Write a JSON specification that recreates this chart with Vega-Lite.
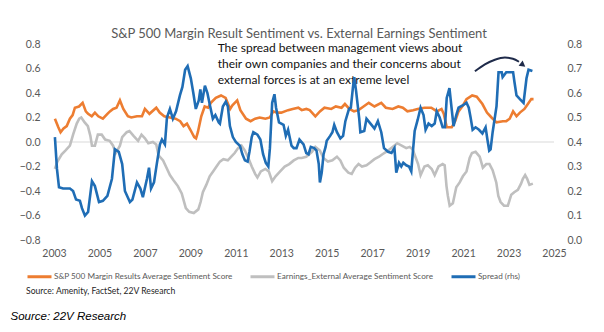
{
  "$schema": "https://vega.github.io/schema/vega-lite/v6.json",
  "width": 500,
  "height": 196,
  "autosize": {"type": "none"},
  "padding": {"left": 54, "top": 44, "right": 50, "bottom": 92},
  "background": "white",
  "config": {"view": {"stroke": null}, "font": "Lato"},
  "title": {"text": "S&P 500 Margin Result Sentiment vs. External Earnings Sentiment", "font": "Lato", "fontSize": 13, "fontWeight": "normal", "color": "#595959", "anchor": "middle", "offset": 0, "dx": -5, "dy": 2},
  "datasets": {
    "zero": [{"t":2003,"v":0},{"t":2025,"v":0}],
    "left": [
      {"s":"m","t":2003.04,"v":0.19},{"s":"m","t":2003.19,"v":0.12},{"s":"m","t":2003.29,"v":0.08},{"s":"m","t":2003.42,"v":0.11},{"s":"m","t":2003.56,"v":0.13},{"s":"m","t":2003.70,"v":0.19},{"s":"m","t":2003.82,"v":0.22},{"s":"m","t":2003.92,"v":0.28},{"s":"m","t":2004.10,"v":0.29},{"s":"m","t":2004.26,"v":0.32},{"s":"m","t":2004.40,"v":0.25},{"s":"m","t":2004.50,"v":0.23},{"s":"m","t":2004.66,"v":0.21},{"s":"m","t":2004.80,"v":0.24},{"s":"m","t":2004.95,"v":0.21},{"s":"m","t":2005.15,"v":0.19},{"s":"m","t":2005.35,"v":0.23},{"s":"m","t":2005.46,"v":0.25},{"s":"m","t":2005.60,"v":0.27},{"s":"m","t":2005.75,"v":0.28},{"s":"m","t":2005.90,"v":0.34},{"s":"m","t":2006.05,"v":0.27},{"s":"m","t":2006.25,"v":0.21},{"s":"m","t":2006.40,"v":0.20},{"s":"m","t":2006.65,"v":0.21},{"s":"m","t":2006.87,"v":0.21},{"s":"m","t":2007.00,"v":0.27},{"s":"m","t":2007.20,"v":0.23},{"s":"m","t":2007.50,"v":0.28},{"s":"m","t":2007.65,"v":0.24},{"s":"m","t":2007.85,"v":0.21},{"s":"m","t":2008.10,"v":0.20},{"s":"m","t":2008.35,"v":0.19},{"s":"m","t":2008.55,"v":0.17},{"s":"m","t":2008.70,"v":0.13},{"s":"m","t":2008.85,"v":0.15},{"s":"m","t":2009.00,"v":0.10},{"s":"m","t":2009.17,"v":0.04},{"s":"m","t":2009.25,"v":0.03},{"s":"m","t":2009.33,"v":0.08},{"s":"m","t":2009.48,"v":0.21},{"s":"m","t":2009.63,"v":0.29},{"s":"m","t":2009.78,"v":0.28},{"s":"m","t":2009.90,"v":0.32},{"s":"m","t":2010.12,"v":0.36},{"s":"m","t":2010.35,"v":0.38},{"s":"m","t":2010.55,"v":0.36},{"s":"m","t":2010.75,"v":0.27},{"s":"m","t":2010.85,"v":0.30},{"s":"m","t":2011.06,"v":0.34},{"s":"m","t":2011.20,"v":0.26},{"s":"m","t":2011.45,"v":0.19},{"s":"m","t":2011.65,"v":0.17},{"s":"m","t":2011.85,"v":0.19},{"s":"m","t":2012.05,"v":0.20},{"s":"m","t":2012.30,"v":0.19},{"s":"m","t":2012.50,"v":0.20},{"s":"m","t":2012.65,"v":0.25},{"s":"m","t":2012.80,"v":0.24},{"s":"m","t":2013.00,"v":0.24},{"s":"m","t":2013.30,"v":0.26},{"s":"m","t":2013.50,"v":0.27},{"s":"m","t":2013.75,"v":0.28},{"s":"m","t":2013.90,"v":0.26},{"s":"m","t":2014.10,"v":0.27},{"s":"m","t":2014.25,"v":0.26},{"s":"m","t":2014.50,"v":0.21},{"s":"m","t":2014.70,"v":0.25},{"s":"m","t":2014.90,"v":0.28},{"s":"m","t":2015.20,"v":0.27},{"s":"m","t":2015.40,"v":0.29},{"s":"m","t":2015.65,"v":0.28},{"s":"m","t":2015.80,"v":0.31},{"s":"m","t":2016.00,"v":0.27},{"s":"m","t":2016.20,"v":0.25},{"s":"m","t":2016.40,"v":0.26},{"s":"m","t":2016.62,"v":0.29},{"s":"m","t":2016.85,"v":0.32},{"s":"m","t":2017.10,"v":0.29},{"s":"m","t":2017.40,"v":0.32},{"s":"m","t":2017.60,"v":0.28},{"s":"m","t":2017.90,"v":0.27},{"s":"m","t":2018.15,"v":0.29},{"s":"m","t":2018.35,"v":0.28},{"s":"m","t":2018.55,"v":0.25},{"s":"m","t":2018.80,"v":0.26},{"s":"m","t":2019.00,"v":0.27},{"s":"m","t":2019.30,"v":0.28},{"s":"m","t":2019.60,"v":0.28},{"s":"m","t":2019.85,"v":0.25},{"s":"m","t":2020.05,"v":0.27},{"s":"m","t":2020.15,"v":0.23},{"s":"m","t":2020.28,"v":0.12},{"s":"m","t":2020.50,"v":0.12},{"s":"m","t":2020.65,"v":0.17},{"s":"m","t":2020.80,"v":0.25},{"s":"m","t":2021.00,"v":0.30},{"s":"m","t":2021.15,"v":0.35},{"s":"m","t":2021.40,"v":0.38},{"s":"m","t":2021.60,"v":0.37},{"s":"m","t":2021.85,"v":0.31},{"s":"m","t":2022.05,"v":0.24},{"s":"m","t":2022.25,"v":0.20},{"s":"m","t":2022.47,"v":0.16},{"s":"m","t":2022.75,"v":0.17},{"s":"m","t":2022.90,"v":0.17},{"s":"m","t":2023.05,"v":0.19},{"s":"m","t":2023.20,"v":0.25},{"s":"m","t":2023.35,"v":0.21},{"s":"m","t":2023.50,"v":0.24},{"s":"m","t":2023.70,"v":0.27},{"s":"m","t":2023.85,"v":0.31},{"s":"m","t":2024.00,"v":0.35},{"s":"m","t":2024.10,"v":0.35},
      {"s":"e","t":2003.04,"v":-0.22},{"s":"e","t":2003.15,"v":-0.16},{"s":"e","t":2003.34,"v":-0.10},{"s":"e","t":2003.50,"v":-0.07},{"s":"e","t":2003.70,"v":-0.03},{"s":"e","t":2003.84,"v":0.06},{"s":"e","t":2004.00,"v":0.15},{"s":"e","t":2004.11,"v":0.19},{"s":"e","t":2004.20,"v":0.20},{"s":"e","t":2004.35,"v":0.16},{"s":"e","t":2004.49,"v":0.13},{"s":"e","t":2004.60,"v":0.05},{"s":"e","t":2004.67,"v":-0.03},{"s":"e","t":2004.80,"v":-0.03},{"s":"e","t":2004.93,"v":0.06},{"s":"e","t":2005.10,"v":0.06},{"s":"e","t":2005.25,"v":0.02},{"s":"e","t":2005.45,"v":0.01},{"s":"e","t":2005.60,"v":-0.03},{"s":"e","t":2005.72,"v":-0.09},{"s":"e","t":2005.90,"v":-0.03},{"s":"e","t":2006.00,"v":0.04},{"s":"e","t":2006.20,"v":0.08},{"s":"e","t":2006.32,"v":0.09},{"s":"e","t":2006.50,"v":0.05},{"s":"e","t":2006.70,"v":0.01},{"s":"e","t":2006.85,"v":0.06},{"s":"e","t":2007.00,"v":0.03},{"s":"e","t":2007.15,"v":-0.01},{"s":"e","t":2007.35,"v":0.0},{"s":"e","t":2007.50,"v":-0.02},{"s":"e","t":2007.60,"v":-0.11},{"s":"e","t":2007.80,"v":-0.15},{"s":"e","t":2007.95,"v":-0.21},{"s":"e","t":2008.10,"v":-0.27},{"s":"e","t":2008.25,"v":-0.31},{"s":"e","t":2008.45,"v":-0.36},{"s":"e","t":2008.62,"v":-0.42},{"s":"e","t":2008.80,"v":-0.54},{"s":"e","t":2008.95,"v":-0.57},{"s":"e","t":2009.15,"v":-0.58},{"s":"e","t":2009.35,"v":-0.55},{"s":"e","t":2009.45,"v":-0.49},{"s":"e","t":2009.55,"v":-0.41},{"s":"e","t":2009.70,"v":-0.35},{"s":"e","t":2009.85,"v":-0.28},{"s":"e","t":2010.00,"v":-0.24},{"s":"e","t":2010.15,"v":-0.20},{"s":"e","t":2010.30,"v":-0.16},{"s":"e","t":2010.45,"v":-0.14},{"s":"e","t":2010.65,"v":-0.15},{"s":"e","t":2010.80,"v":-0.12},{"s":"e","t":2010.95,"v":-0.09},{"s":"e","t":2011.10,"v":-0.05},{"s":"e","t":2011.25,"v":-0.03},{"s":"e","t":2011.40,"v":-0.07},{"s":"e","t":2011.55,"v":-0.13},{"s":"e","t":2011.70,"v":-0.20},{"s":"e","t":2011.85,"v":-0.26},{"s":"e","t":2011.95,"v":-0.29},{"s":"e","t":2012.10,"v":-0.24},{"s":"e","t":2012.30,"v":-0.22},{"s":"e","t":2012.45,"v":-0.24},{"s":"e","t":2012.60,"v":-0.32},{"s":"e","t":2012.75,"v":-0.28},{"s":"e","t":2012.95,"v":-0.24},{"s":"e","t":2013.15,"v":-0.20},{"s":"e","t":2013.35,"v":-0.18},{"s":"e","t":2013.55,"v":-0.15},{"s":"e","t":2013.75,"v":-0.13},{"s":"e","t":2013.90,"v":-0.13},{"s":"e","t":2014.10,"v":-0.12},{"s":"e","t":2014.35,"v":-0.08},{"s":"e","t":2014.50,"v":-0.04},{"s":"e","t":2014.70,"v":-0.07},{"s":"e","t":2014.85,"v":-0.13},{"s":"e","t":2015.05,"v":-0.16},{"s":"e","t":2015.25,"v":-0.15},{"s":"e","t":2015.45,"v":-0.12},{"s":"e","t":2015.60,"v":-0.15},{"s":"e","t":2015.75,"v":-0.21},{"s":"e","t":2015.95,"v":-0.25},{"s":"e","t":2016.10,"v":-0.26},{"s":"e","t":2016.25,"v":-0.21},{"s":"e","t":2016.40,"v":-0.18},{"s":"e","t":2016.55,"v":-0.20},{"s":"e","t":2016.75,"v":-0.19},{"s":"e","t":2016.90,"v":-0.17},{"s":"e","t":2017.10,"v":-0.14},{"s":"e","t":2017.30,"v":-0.12},{"s":"e","t":2017.45,"v":-0.10},{"s":"e","t":2017.70,"v":-0.07},{"s":"e","t":2017.90,"v":-0.04},{"s":"e","t":2018.10,"v":-0.01},{"s":"e","t":2018.30,"v":-0.03},{"s":"e","t":2018.50,"v":-0.05},{"s":"e","t":2018.65,"v":-0.04},{"s":"e","t":2018.78,"v":-0.06},{"s":"e","t":2018.90,"v":-0.12},{"s":"e","t":2019.02,"v":-0.18},{"s":"e","t":2019.13,"v":-0.27},{"s":"e","t":2019.30,"v":-0.20},{"s":"e","t":2019.45,"v":-0.19},{"s":"e","t":2019.62,"v":-0.22},{"s":"e","t":2019.75,"v":-0.27},{"s":"e","t":2019.92,"v":-0.20},{"s":"e","t":2020.10,"v":-0.18},{"s":"e","t":2020.19,"v":-0.19},{"s":"e","t":2020.27,"v":-0.36},{"s":"e","t":2020.33,"v":-0.44},{"s":"e","t":2020.41,"v":-0.52},{"s":"e","t":2020.55,"v":-0.50},{"s":"e","t":2020.70,"v":-0.37},{"s":"e","t":2020.85,"v":-0.33},{"s":"e","t":2020.99,"v":-0.28},{"s":"e","t":2021.15,"v":-0.24},{"s":"e","t":2021.29,"v":-0.13},{"s":"e","t":2021.39,"v":-0.09},{"s":"e","t":2021.55,"v":-0.08},{"s":"e","t":2021.73,"v":-0.12},{"s":"e","t":2021.87,"v":-0.21},{"s":"e","t":2022.02,"v":-0.18},{"s":"e","t":2022.16,"v":-0.18},{"s":"e","t":2022.30,"v":-0.23},{"s":"e","t":2022.46,"v":-0.33},{"s":"e","t":2022.55,"v":-0.44},{"s":"e","t":2022.65,"v":-0.49},{"s":"e","t":2022.80,"v":-0.52},{"s":"e","t":2022.97,"v":-0.52},{"s":"e","t":2023.12,"v":-0.43},{"s":"e","t":2023.25,"v":-0.41},{"s":"e","t":2023.41,"v":-0.39},{"s":"e","t":2023.55,"v":-0.34},{"s":"e","t":2023.63,"v":-0.30},{"s":"e","t":2023.73,"v":-0.27},{"s":"e","t":2023.82,"v":-0.30},{"s":"e","t":2023.92,"v":-0.35},{"s":"e","t":2024.07,"v":-0.34}
    ],
    "spread": [
      {"s":"s","t":2003.04,"v":0.42},{"s":"s","t":2003.13,"v":0.29},{"s":"s","t":2003.22,"v":0.215},{"s":"s","t":2003.40,"v":0.21},{"s":"s","t":2003.70,"v":0.21},{"s":"s","t":2003.84,"v":0.20},{"s":"s","t":2003.97,"v":0.165},{"s":"s","t":2004.14,"v":0.16},{"s":"s","t":2004.23,"v":0.13},{"s":"s","t":2004.36,"v":0.10},{"s":"s","t":2004.50,"v":0.115},{"s":"s","t":2004.67,"v":0.24},{"s":"s","t":2004.80,"v":0.22},{"s":"s","t":2004.98,"v":0.155},{"s":"s","t":2005.15,"v":0.16},{"s":"s","t":2005.35,"v":0.18},{"s":"s","t":2005.55,"v":0.25},{"s":"s","t":2005.68,"v":0.37},{"s":"s","t":2005.85,"v":0.36},{"s":"s","t":2006.00,"v":0.31},{"s":"s","t":2006.12,"v":0.20},{"s":"s","t":2006.34,"v":0.155},{"s":"s","t":2006.45,"v":0.165},{"s":"s","t":2006.65,"v":0.235},{"s":"s","t":2006.80,"v":0.21},{"s":"s","t":2006.91,"v":0.175},{"s":"s","t":2007.09,"v":0.25},{"s":"s","t":2007.18,"v":0.295},{"s":"s","t":2007.27,"v":0.21},{"s":"s","t":2007.40,"v":0.235},{"s":"s","t":2007.53,"v":0.315},{"s":"s","t":2007.66,"v":0.39},{"s":"s","t":2007.75,"v":0.41},{"s":"s","t":2007.88,"v":0.39},{"s":"s","t":2007.97,"v":0.50},{"s":"s","t":2008.10,"v":0.535},{"s":"s","t":2008.23,"v":0.495},{"s":"s","t":2008.37,"v":0.525},{"s":"s","t":2008.54,"v":0.59},{"s":"s","t":2008.65,"v":0.625},{"s":"s","t":2008.77,"v":0.695},{"s":"s","t":2008.88,"v":0.71},{"s":"s","t":2009.02,"v":0.66},{"s":"s","t":2009.13,"v":0.60},{"s":"s","t":2009.24,"v":0.535},{"s":"s","t":2009.37,"v":0.57},{"s":"s","t":2009.44,"v":0.615},{"s":"s","t":2009.51,"v":0.56},{"s":"s","t":2009.64,"v":0.63},{"s":"s","t":2009.75,"v":0.60},{"s":"s","t":2009.86,"v":0.55},{"s":"s","t":2009.99,"v":0.495},{"s":"s","t":2010.10,"v":0.51},{"s":"s","t":2010.25,"v":0.48},{"s":"s","t":2010.30,"v":0.475},{"s":"s","t":2010.43,"v":0.545},{"s":"s","t":2010.56,"v":0.565},{"s":"s","t":2010.65,"v":0.545},{"s":"s","t":2010.74,"v":0.465},{"s":"s","t":2010.87,"v":0.42},{"s":"s","t":2011.00,"v":0.40},{"s":"s","t":2011.18,"v":0.385},{"s":"s","t":2011.29,"v":0.35},{"s":"s","t":2011.40,"v":0.325},{"s":"s","t":2011.52,"v":0.32},{"s":"s","t":2011.60,"v":0.36},{"s":"s","t":2011.70,"v":0.42},{"s":"s","t":2011.77,"v":0.44},{"s":"s","t":2011.95,"v":0.43},{"s":"s","t":2012.08,"v":0.41},{"s":"s","t":2012.20,"v":0.35},{"s":"s","t":2012.32,"v":0.315},{"s":"s","t":2012.43,"v":0.30},{"s":"s","t":2012.50,"v":0.375},{"s":"s","t":2012.60,"v":0.56},{"s":"s","t":2012.70,"v":0.595},{"s":"s","t":2012.77,"v":0.54},{"s":"s","t":2012.90,"v":0.48},{"s":"s","t":2013.10,"v":0.47},{"s":"s","t":2013.20,"v":0.425},{"s":"s","t":2013.30,"v":0.45},{"s":"s","t":2013.45,"v":0.385},{"s":"s","t":2013.55,"v":0.375},{"s":"s","t":2013.67,"v":0.375},{"s":"s","t":2013.80,"v":0.41},{"s":"s","t":2013.98,"v":0.39},{"s":"s","t":2014.10,"v":0.355},{"s":"s","t":2014.20,"v":0.35},{"s":"s","t":2014.30,"v":0.38},{"s":"s","t":2014.45,"v":0.375},{"s":"s","t":2014.55,"v":0.365},{"s":"s","t":2014.65,"v":0.31},{"s":"s","t":2014.70,"v":0.235},{"s":"s","t":2014.78,"v":0.275},{"s":"s","t":2014.86,"v":0.35},{"s":"s","t":2014.95,"v":0.38},{"s":"s","t":2015.00,"v":0.405},{"s":"s","t":2015.15,"v":0.425},{"s":"s","t":2015.25,"v":0.44},{"s":"s","t":2015.33,"v":0.47},{"s":"s","t":2015.45,"v":0.44},{"s":"s","t":2015.60,"v":0.415},{"s":"s","t":2015.72,"v":0.425},{"s":"s","t":2015.82,"v":0.485},{"s":"s","t":2015.98,"v":0.535},{"s":"s","t":2016.06,"v":0.54},{"s":"s","t":2016.15,"v":0.62},{"s":"s","t":2016.21,"v":0.665},{"s":"s","t":2016.29,"v":0.61},{"s":"s","t":2016.43,"v":0.495},{"s":"s","t":2016.48,"v":0.44},{"s":"s","t":2016.65,"v":0.445},{"s":"s","t":2016.75,"v":0.495},{"s":"s","t":2016.88,"v":0.48},{"s":"s","t":2016.97,"v":0.47},{"s":"s","t":2017.10,"v":0.455},{"s":"s","t":2017.25,"v":0.485},{"s":"s","t":2017.40,"v":0.44},{"s":"s","t":2017.52,"v":0.375},{"s":"s","t":2017.70,"v":0.36},{"s":"s","t":2017.85,"v":0.355},{"s":"s","t":2017.98,"v":0.375},{"s":"s","t":2018.06,"v":0.275},{"s":"s","t":2018.18,"v":0.315},{"s":"s","t":2018.28,"v":0.30},{"s":"s","t":2018.37,"v":0.315},{"s":"s","t":2018.50,"v":0.305},{"s":"s","t":2018.62,"v":0.30},{"s":"s","t":2018.72,"v":0.28},{"s":"s","t":2018.80,"v":0.37},{"s":"s","t":2018.87,"v":0.445},{"s":"s","t":2019.00,"v":0.49},{"s":"s","t":2019.13,"v":0.54},{"s":"s","t":2019.26,"v":0.51},{"s":"s","t":2019.35,"v":0.45},{"s":"s","t":2019.48,"v":0.475},{"s":"s","t":2019.62,"v":0.465},{"s":"s","t":2019.75,"v":0.475},{"s":"s","t":2019.84,"v":0.525},{"s":"s","t":2019.97,"v":0.50},{"s":"s","t":2020.10,"v":0.46},{"s":"s","t":2020.20,"v":0.46},{"s":"s","t":2020.28,"v":0.58},{"s":"s","t":2020.40,"v":0.62},{"s":"s","t":2020.48,"v":0.55},{"s":"s","t":2020.58,"v":0.465},{"s":"s","t":2020.70,"v":0.51},{"s":"s","t":2020.80,"v":0.54},{"s":"s","t":2021.00,"v":0.55},{"s":"s","t":2021.15,"v":0.56},{"s":"s","t":2021.25,"v":0.54},{"s":"s","t":2021.33,"v":0.50},{"s":"s","t":2021.42,"v":0.45},{"s":"s","t":2021.55,"v":0.46},{"s":"s","t":2021.70,"v":0.45},{"s":"s","t":2021.85,"v":0.435},{"s":"s","t":2021.99,"v":0.46},{"s":"s","t":2022.07,"v":0.41},{"s":"s","t":2022.15,"v":0.365},{"s":"s","t":2022.21,"v":0.37},{"s":"s","t":2022.30,"v":0.44},{"s":"s","t":2022.47,"v":0.545},{"s":"s","t":2022.56,"v":0.685},{"s":"s","t":2022.70,"v":0.685},{"s":"s","t":2022.74,"v":0.665},{"s":"s","t":2022.90,"v":0.685},{"s":"s","t":2023.04,"v":0.685},{"s":"s","t":2023.20,"v":0.685},{"s":"s","t":2023.26,"v":0.645},{"s":"s","t":2023.35,"v":0.59},{"s":"s","t":2023.50,"v":0.575},{"s":"s","t":2023.66,"v":0.56},{"s":"s","t":2023.79,"v":0.66},{"s":"s","t":2023.88,"v":0.695},{"s":"s","t":2024.05,"v":0.69}
    ],
    "note": [
      {"t":2010.2,"v":0.765,"label":"The spread between management views about"},
      {"t":2010.2,"v":0.637,"label":"their own companies and their concerns about"},
      {"t":2010.2,"v":0.506,"label":"external forces is at an extreme level"}
    ],
    "arrow": [
      {"t":2021.52,"v":0.577},{"t":2021.96,"v":0.634},{"t":2022.40,"v":0.672},{"t":2022.84,"v":0.69},{"t":2023.19,"v":0.68},{"t":2023.46,"v":0.655}
    ],
    "head": [{"t":2023.6,"v":0.634}]
  },
  "encoding": {
    "x": {"field": "t", "type": "quantitative", "scale": {"domain": [2003, 2025], "nice": false, "zero": false},
      "axis": {"values": [2003,2005,2007,2009,2011,2013,2015,2017,2019,2021,2023,2025], "format": "d", "grid": false, "domain": false, "ticks": false, "labelFlush": false, "labelOverlap": false, "labelFont": "Lato", "labelFontSize": 10.5, "labelColor": "#595959", "labelPadding": 8,
        "title": "Source: 22V Research", "titleFont": "Liberation Sans", "titleFontStyle": "italic", "titleFontWeight": "normal", "titleFontSize": 11.5, "titleColor": "#000000", "titleX": -44, "titleY": 76, "titleAlign": "left", "titleBaseline": "middle"}}
  },
  "layer": [
    {
      "encoding": {
        "y": {"field": "v", "type": "quantitative", "scale": {"domain": [-0.8, 0.8], "nice": false},
          "axis": {"values": [-0.8,-0.6,-0.4,-0.2,0,0.2,0.4,0.6,0.8], "format": ".1f", "grid": false, "domain": false, "ticks": false, "labelFlush": false, "labelOverlap": false, "labelFont": "Lato", "labelFontSize": 10.5, "labelColor": "#595959", "labelPadding": 14, "title": null}}
      },
      "layer": [
        {
          "data": {"name": "zero"},
          "mark": {"type": "line", "color": "#D9D9D9", "strokeWidth": 1}
        },
        {
          "data": {"name": "left"},
          "mark": {"type": "line", "strokeWidth": 2.6},
          "encoding": {
            "color": {"field": "s", "type": "nominal",
              "scale": {"domain": ["m", "e", "s"], "range": ["#ED7D31", "#BFBFBF", "#1F6DB5"]},
              "legend": {"orient": "none", "legendX": -28, "legendY": 219, "direction": "horizontal", "title": "Source: Amenity, FactSet, 22V Research", "titleOrient": "bottom", "titleAnchor": "start", "titleFont": "Lato", "titleFontSize": 8.6, "titleFontWeight": "normal", "titleColor": "#262626", "titlePadding": 4, "labelFont": "Lato", "labelFontSize": 8.2, "labelColor": "#595959", "labelLimit": 0, "symbolType": "stroke", "symbolStrokeWidth": 3, "symbolSize": 576, "labelOffset": 1, "columnPadding": 11,
                "labelExpr": "datum.label == 'm' ? 'S&P 500 Margin Results Average Sentiment Score' : datum.label == 'e' ? 'Earnings_External Average Sentiment Score' : 'Spread (rhs)'"}}
          }
        },
        {
          "data": {"name": "note"},
          "mark": {"type": "text", "align": "left", "baseline": "middle", "font": "Lato", "fontSize": 12, "color": "#111111"},
          "encoding": {"text": {"field": "label"}}
        },
        {
          "data": {"name": "arrow"},
          "mark": {"type": "line", "interpolate": "monotone", "color": "#1F2B4A", "strokeWidth": 2}
        },
        {
          "data": {"name": "head"},
          "mark": {"type": "point", "shape": "triangle", "filled": true, "color": "#1F2B4A", "size": 45, "angle": 127, "opacity": 1}
        }
      ]
    },
    {
      "data": {"name": "spread"},
      "mark": {"type": "line", "strokeWidth": 2.6},
      "encoding": {
        "y": {"field": "v", "type": "quantitative", "scale": {"domain": [0, 0.8], "nice": false},
          "axis": {"orient": "right", "values": [0,0.1,0.2,0.3,0.4,0.5,0.6,0.7,0.8], "format": ".1f", "grid": false, "domain": false, "ticks": false, "labelFlush": false, "labelOverlap": false, "labelFont": "Lato", "labelFontSize": 10.5, "labelColor": "#595959", "labelPadding": 13, "title": null}},
        "color": {"field": "s", "type": "nominal",
          "scale": {"domain": ["m", "e", "s"], "range": ["#ED7D31", "#BFBFBF", "#1F6DB5"]},
          "legend": {"orient": "none", "legendX": -28, "legendY": 219, "direction": "horizontal", "title": "Source: Amenity, FactSet, 22V Research", "titleOrient": "bottom", "titleAnchor": "start", "titleFont": "Lato", "titleFontSize": 8.6, "titleFontWeight": "normal", "titleColor": "#262626", "titlePadding": 4, "labelFont": "Lato", "labelFontSize": 8.2, "labelColor": "#595959", "labelLimit": 0, "symbolType": "stroke", "symbolStrokeWidth": 3, "symbolSize": 576, "labelOffset": 1, "columnPadding": 11,
            "labelExpr": "datum.label == 'm' ? 'S&P 500 Margin Results Average Sentiment Score' : datum.label == 'e' ? 'Earnings_External Average Sentiment Score' : 'Spread (rhs)'"}}
      }
    }
  ],
  "resolve": {"scale": {"y": "independent"}}
}
